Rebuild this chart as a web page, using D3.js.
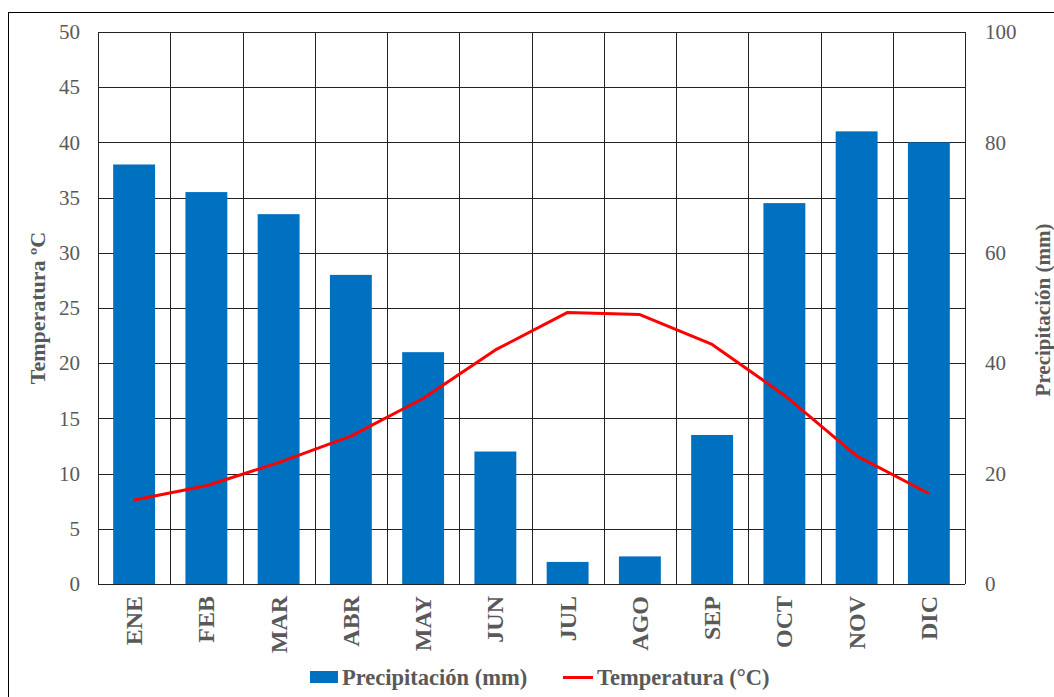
<!DOCTYPE html>
<html>
<head>
<meta charset="utf-8">
<script src="https://cdn.jsdelivr.net/npm/d3@7"></script>
<style>
  body { margin: 0; background: #fff; }
  svg text { font-family: "Liberation Serif", "DejaVu Serif", serif; fill: #595959; }
</style>
</head>
<body>
<div id="chart"></div>
<script>
var months = ["ENE", "FEB", "MAR", "ABR", "MAY", "JUN", "JUL", "AGO", "SEP", "OCT", "NOV", "DIC"];
var precipitation = [76, 71, 67, 56, 42, 24, 4, 5, 27, 69, 82, 80];
var temperature = [7.6, 8.9, 11, 13.4, 16.8, 21.2, 24.6, 24.4, 21.7, 17.1, 11.6, 8.2];
var tempTicks = [0, 5, 10, 15, 20, 25, 30, 35, 40, 45, 50];
var precTicks = [0, 20, 40, 60, 80, 100];

var width = 1054, height = 697;
var margin = {top: 32, right: 89, bottom: 113, left: 98};
var plotW = width - margin.left - margin.right;
var plotH = height - margin.top - margin.bottom;

var svg = d3.select("#chart").append("svg")
  .attr("width", width)
  .attr("height", height)
  .attr("font-family", "Liberation Serif");

// outer frame
svg.append("rect")
  .attr("x", 8.5).attr("y", 12.5)
  .attr("width", 1060).attr("height", 700)
  .attr("fill", "none").attr("stroke", "#000").attr("stroke-width", 1);

var g = svg.append("g").attr("transform", "translate(" + margin.left + "," + margin.top + ")");

var x = d3.scaleBand().domain(months).range([0, plotW]).paddingInner(0).paddingOuter(0);
var yT = d3.scaleLinear().domain([0, 50]).range([plotH, 0]);
var yP = d3.scaleLinear().domain([0, 100]).range([plotH, 0]);

// grid
g.append("g").selectAll("line").data(tempTicks).join("line")
  .attr("x1", 0).attr("x2", plotW)
  .attr("y1", function(d) { return Math.round(yT(d)) + 0.5; })
  .attr("y2", function(d) { return Math.round(yT(d)) + 0.5; })
  .attr("stroke", "#222").attr("stroke-width", 1);

var vLines = months.map(function(m) { return x(m); }).concat([plotW]);
g.append("g").selectAll("line").data(vLines).join("line")
  .attr("x1", function(d) { return Math.round(d) + 0.5; })
  .attr("x2", function(d) { return Math.round(d) + 0.5; })
  .attr("y1", 0).attr("y2", plotH)
  .attr("stroke", "#222").attr("stroke-width", 1);

// bars
var barW = x.bandwidth() * 0.58;
g.append("g").selectAll("rect").data(precipitation).join("rect")
  .attr("x", function(d, i) { return x(months[i]) + (x.bandwidth() - barW) / 2; })
  .attr("y", function(d) { return yP(d); })
  .attr("width", barW)
  .attr("height", function(d) { return plotH - yP(d); })
  .attr("fill", "#0070C0");

// temperature line
var line = d3.line()
  .x(function(d, i) { return x(months[i]) + x.bandwidth() / 2; })
  .y(function(d) { return yT(d); });

g.append("path")
  .datum(temperature)
  .attr("d", line)
  .attr("fill", "none")
  .attr("stroke", "#FF0000")
  .attr("stroke-width", 3)
  .attr("stroke-linejoin", "round");

// left axis
var leftAxis = g.append("g").call(d3.axisLeft(yT).tickValues(tempTicks).tickSize(0).tickPadding(18));
leftAxis.select(".domain").remove();
leftAxis.attr("font-family", "Liberation Serif");
leftAxis.selectAll("text").attr("font-size", 21).attr("fill", "#595959");

// right axis
var rightAxis = g.append("g").attr("transform", "translate(" + plotW + ",0)")
  .call(d3.axisRight(yP).tickValues(precTicks).tickSize(0).tickPadding(20));
rightAxis.select(".domain").remove();
rightAxis.attr("font-family", "Liberation Serif");
rightAxis.selectAll("text").attr("font-size", 21).attr("fill", "#595959");

// x labels
g.append("g").selectAll("text").data(months).join("text")
  .attr("transform", function(d) {
    return "translate(" + (x(d) + x.bandwidth() / 2 + 8) + "," + (plotH + 12) + ") rotate(-90)";
  })
  .attr("text-anchor", "end")
  .attr("font-size", 24)
  .attr("font-weight", "bold")
  .text(function(d) { return d; });

// axis titles
svg.append("text")
  .attr("transform", "translate(45," + (margin.top + plotH / 2) + ") rotate(-90)")
  .attr("text-anchor", "middle")
  .attr("font-size", 22)
  .attr("font-weight", "bold")
  .text("Temperatura ºC");

svg.append("text")
  .attr("transform", "translate(1050," + (margin.top + plotH / 2 + 2) + ") rotate(-90)")
  .attr("text-anchor", "middle")
  .attr("font-size", 21)
  .attr("font-weight", "bold")
  .text("Precipitación (mm)");

// legend
var legend = svg.append("g").attr("transform", "translate(310,677)");
legend.append("rect").attr("x", 0).attr("y", -6).attr("width", 28).attr("height", 12).attr("fill", "#0070C0");
legend.append("text").attr("x", 32).attr("y", 8).attr("font-size", 22.5).attr("font-weight", "bold")
  .text("Precipitación (mm)");
legend.append("line").attr("x1", 253).attr("x2", 283).attr("y1", 0.5).attr("y2", 0.5)
  .attr("stroke", "#FF0000").attr("stroke-width", 3);
legend.append("text").attr("x", 287).attr("y", 8).attr("font-size", 22.5).attr("font-weight", "bold")
  .text("Temperatura (°C)");
</script>
</body>
</html>
